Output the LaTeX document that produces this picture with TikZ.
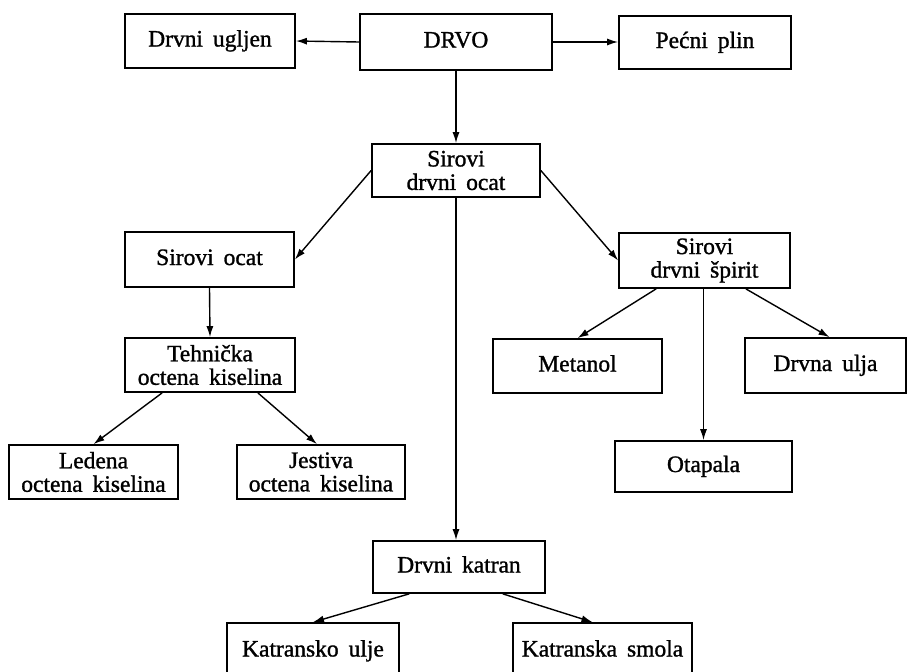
\documentclass[tikz,border=0pt]{standalone}
\usepackage{fontspec}
\setmainfont{Liberation Serif}[WordSpace=1.7,FakeBold=1.2]
\usetikzlibrary{arrows.meta,calc}
\begin{document}
\begin{tikzpicture}[x=1pt,y=-1pt,
  box/.style={draw,line width=1.7pt,rectangle,inner sep=0pt,align=center,
    font=\fontsize{23.5}{23.5}\selectfont},
  one/.style={text height=15pt,text depth=4pt},
  conn/.style={line width=1.4pt,-{Latex[length=11pt,width=7pt]}}]
\useasboundingbox[fill=white] (0,0) rectangle (908,672);
\node[box,one,minimum width=170pt,minimum height=54pt] (ugljen) at (210,41) {Drvni ugljen};
\node[box,one,minimum width=192pt,minimum height=56pt] (drvo) at (456,42) {DRVO};
\node[box,one,minimum width=172pt,minimum height=53pt] (plin) at (705,42.5) {Pećni plin};
\node[box,minimum width=168pt,minimum height=53pt] (sdo) at (456,170.5) {Sirovi\\drvni ocat};
\node[box,one,minimum width=169pt,minimum height=55pt] (socat) at (209.5,259.5) {Sirovi ocat};
\node[box,minimum width=171pt,minimum height=55pt] (sds) at (704.5,260.5) {Sirovi\\drvni špirit};
\node[box,minimum width=170pt,minimum height=54pt] (tehn) at (210,365) {Tehnička\\octena kiselina};
\node[box,one,minimum width=169pt,minimum height=54pt] (metanol) at (577.5,366) {Metanol};
\node[box,one,minimum width=161pt,minimum height=55pt] (ulja) at (825.5,365.5) {Drvna ulja};
\node[box,minimum width=169pt,minimum height=54pt] (ledena) at (93.5,472) {Ledena\\octena kiselina};
\node[box,minimum width=168pt,minimum height=54pt] (jestiva) at (321,472) {Jestiva\\octena kiselina};
\node[box,one,minimum width=177pt,minimum height=51pt] (otapala) at (703.5,466.5) {Otapala};
\node[box,one,minimum width=172pt,minimum height=52pt] (katran) at (459,567) {Drvni katran};
\node[box,one,minimum width=172pt,minimum height=56pt] (kulje) at (313,651) {Katransko ulje};
\node[box,one,minimum width=179pt,minimum height=56pt] (ksmola) at (602.5,651) {Katranska smola};

\draw[conn] (drvo.west) -- (ugljen.east);
\draw[conn] (drvo.east) -- (drvo.east -| plin.west);
\draw[conn] (drvo.south -| sdo.north) -- (sdo.north);
\draw[conn] (sdo.west) -- (socat.east);
\draw[conn] (sdo.east) -- (sds.west);
\draw[conn] (socat.south) -- (tehn.north);
\draw[conn] ($(tehn.south west)+(38,0)$) -- (ledena.north);
\draw[conn] ($(tehn.south east)+(-38,0)$) -- ($(jestiva.north)+(-4,0)$);
\draw[conn] (sdo.south) -- (sdo.south |- katran.north);
\draw[conn] ($(sds.south west)+(38,0)$) -- (metanol.north);
\draw[conn] (sds.south -| otapala.north) -- (otapala.north);
\draw[conn] ($(sds.south east)+(-45,0)$) -- ($(ulja.north)+(4,0)$);
\draw[conn] ($(katran.south west)+(37,0)$) -- (kulje.north);
\draw[conn] ($(katran.south east)+(-43,0)$) -- ($(ksmola.north)+(-10,0)$);
\end{tikzpicture}
\end{document}
